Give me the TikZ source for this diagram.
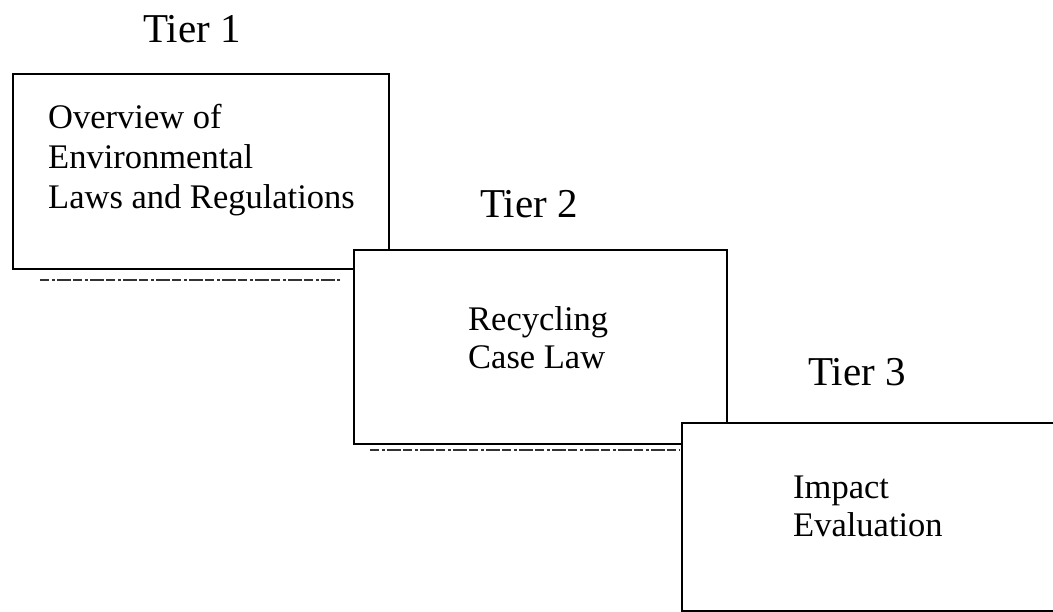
\documentclass[tikz,border=0pt]{standalone}
\usepackage{fontspec}
\setmainfont{Liberation Serif}
\begin{document}
\begin{tikzpicture}[x=1pt,y=-1pt,
  tier/.style={font=\fontsize{41}{46}\selectfont, inner sep=0pt, anchor=base west},
  tierbox/.style={draw=black, line width=2.4pt, fill=white, inner sep=0pt, anchor=north west},
  boxtext/.style={font=\fontsize{34.5}{38}\selectfont, inner sep=0pt, align=left, anchor=north west},
  shade/.style={draw=black!80, line width=1.6pt, dash pattern=on 9pt off 3pt on 3pt off 2pt on 14pt off 2pt}]
\useasboundingbox (0,0) rectangle (1053,611);

% stepped boxes, each one laid over the previous
\node[tierbox, minimum width=376pt, minimum height=195pt] (box1) at (12,73) {};
\coordinate (s1a) at (40,280);
\coordinate (s1b) at (340,280);
\draw[shade] (s1a) -- (s1b);

\node[tierbox, minimum width=373pt, minimum height=194pt] (box2) at (353,249) {};
\coordinate (s2a) at (370,450);
\coordinate (s2b) at (680,450);
\draw[shade] (s2a) -- (s2b);

\node[tierbox, minimum width=400pt, minimum height=188pt] (box3) at (681,422) {};

% box contents
\node[boxtext, font=\fontsize{34.5}{40}\selectfont] (t1) at (48,104)
  {Overview of\\Environmental\\Laws and Regulations};
\node[boxtext] (t2) at (468,306) {Recycling\\Case Law};
\node[boxtext] (t3) at (793,476) {Impact\\Evaluation};

% tier headings
\node[tier] (tier1) at (143,42) {Tier 1};
\node[tier] (tier2) at (480,217) {Tier 2};
\node[tier] (tier3) at (808,385) {Tier 3};
\end{tikzpicture}
\end{document}
